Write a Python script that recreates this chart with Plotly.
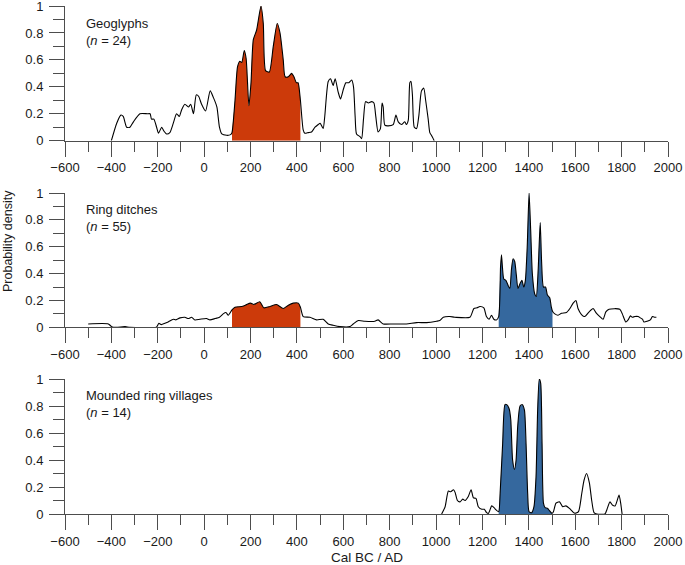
import plotly.graph_objects as go

# ---------------- data ----------------
geo_x = [-400, -377, -359, -349, -334, -320, -305, -277, -245, -233, -227, -217, -205, -197, -183, -173, -162, -148,
         -133, -119, -107, -97, -83, -68, -58, -46, -34, -24, -11, 6, 26, 40, 55, 66, 76, 97, 114,
         120, 133, 144, 154, 162, 173, 181, 193, 202, 212, 226, 245, 255, 265, 281, 298, 315, 327, 341, 349, 363,
         377, 387, 398, 405, 415,
         427, 434, 449, 463, 478, 492, 500, 513, 520, 535, 545, 556, 565, 578, 588, 600, 611, 624, 636, 644, 651,
         657, 672, 679, 687, 696, 708, 722, 732, 740, 750, 760, 767, 772, 779, 793, 815, 827, 837, 851, 865, 872,
         880, 887, 892, 898, 906, 916, 926, 937, 947, 955, 966, 973, 980, 992]
geo_y = [0, 0.13, 0.19, 0.18, 0.10, 0.10, 0.14, 0.20, 0.20, 0.20, 0.16, 0.16, 0.10, 0.055, 0.10, 0.07, 0.05, 0.06,
         0.13, 0.20, 0.18, 0.23, 0.27, 0.25, 0.27, 0.20, 0.34, 0.33, 0.27, 0.22, 0.37, 0.32, 0.25, 0.10, 0.05, 0.04, 0.045,
         0.06, 0.30, 0.55, 0.59, 0.58, 0.67, 0.61, 0.26, 0.43, 0.75, 0.82, 1.0, 0.87, 0.52, 0.51, 0.70, 0.87, 0.80, 0.60, 0.475, 0.475,
         0.50, 0.475, 0.43, 0.43, 0.30,
         0.08, 0.055, 0.06, 0.065, 0.10, 0.12, 0.13, 0.09, 0.18, 0.44, 0.46, 0.41, 0.46, 0.36, 0.31, 0.38, 0.43, 0.43, 0.45, 0.40, 0.18,
         0.05, 0.03, 0.015, 0.16, 0.29, 0.28, 0.29, 0.28, 0.18, 0.065, 0.09, 0.28, 0.25, 0.115, 0.11, 0.12, 0.19, 0.14, 0.12, 0.14, 0.12,
         0.15, 0.43, 0.44, 0.34, 0.10, 0.09, 0.19, 0.37, 0.39, 0.30, 0.16, 0.06, 0.04, 0]

ring_x = [-500, -413, -399, -380, -341, -320, -206, -195, -185, -169, -155, -133, -122, -104, -83, -68, -54, -40, -18,
          10, 25, 47, 66, 82, 94, 104,
          120, 133, 162, 178, 200, 214, 240, 257, 284, 312, 341, 363, 384, 406, 415,
          427, 456, 485, 513, 535, 556, 585, 628, 643, 665, 693, 736, 750, 772, 815, 872, 916, 959, 1002, 1016,
          1031, 1059, 1081, 1146, 1163, 1177, 1189, 1206, 1217, 1229, 1239, 1249, 1260,
          1270, 1278, 1282, 1286, 1292, 1301, 1311, 1318, 1325, 1332, 1339, 1346, 1353, 1363, 1370, 1378, 1385, 1393,
          1401, 1408, 1415, 1425, 1432, 1440, 1449, 1455, 1463, 1472, 1480, 1490, 1497, 1502,
          1512, 1526, 1541, 1562, 1577, 1591, 1603, 1612, 1627, 1641, 1660, 1677, 1691, 1706, 1720, 1732, 1746, 1792,
          1803, 1818, 1828, 1838, 1846, 1857, 1871, 1881, 1890, 1896, 1910, 1924, 1933, 1943, 1950]
ring_y = [0.025, 0.025, 0.005, 0, 0.005, 0, 0, 0.03, 0.02, 0.03, 0.04, 0.06, 0.055, 0.07, 0.075, 0.065, 0.075, 0.055, 0.06,
          0.065, 0.055, 0.065, 0.075, 0.10, 0.11, 0.09,
          0.13, 0.15, 0.155, 0.165, 0.18, 0.17, 0.19, 0.145, 0.155, 0.17, 0.14, 0.165, 0.18, 0.18, 0.15,
          0.08, 0.075, 0.055, 0.06, 0.025, 0.015, 0.005, 0.005, 0.025, 0.05, 0.045, 0.045, 0.055, 0.025, 0.025, 0.025, 0.035, 0.035, 0.045, 0.05,
          0.075, 0.08, 0.075, 0.075, 0.14, 0.145, 0.155, 0.145, 0.08, 0.06, 0.09, 0.06, 0.055,
          0.08, 0.45, 0.54, 0.45, 0.36, 0.35, 0.31, 0.29, 0.43, 0.51, 0.49, 0.39, 0.29, 0.33, 0.35, 0.30, 0.35, 0.60,
          1.0, 0.72, 0.40, 0.25, 0.23, 0.42, 0.78, 0.49, 0.30, 0.30, 0.24, 0.22, 0.15, 0.12,
          0.10, 0.09, 0.105, 0.11, 0.14, 0.18, 0.20, 0.14, 0.095, 0.08, 0.115, 0.14, 0.105, 0.08, 0.06, 0.115, 0.135, 0.135,
          0.10, 0.04, 0.055, 0.085, 0.075, 0.08, 0.08, 0.07, 0.06, 0.04, 0.045, 0.055, 0.08, 0.075, 0.075]

mound_x = [1024, 1039, 1053, 1063, 1075, 1082, 1092, 1103, 1115, 1125, 1139, 1151, 1161, 1172, 1182, 1197, 1208, 1218,
           1226, 1240, 1250, 1259,
           1270, 1276, 1287, 1297, 1305, 1315, 1322, 1330, 1338, 1345, 1352, 1362, 1372, 1381, 1388, 1395, 1401,
           1412, 1422, 1431, 1438, 1445, 1451, 1457, 1463, 1470, 1480, 1489, 1500,
           1506, 1517, 1532, 1546, 1560, 1575, 1589, 1599, 1614, 1628, 1638, 1649, 1661, 1671, 1681, 1693, 1728,
           1736, 1750, 1760, 1772, 1779, 1789, 1796, 1802]
mound_y = [0, 0.054, 0.17, 0.165, 0.18, 0.16, 0.10, 0.09, 0.11, 0.10, 0.13, 0.18, 0.12, 0.115, 0.054, 0.035, 0.035, 0.01,
           0.005, 0.06, 0.047, 0.03,
           0.017, 0.15, 0.52, 0.81, 0.81, 0.78, 0.70, 0.40, 0.33, 0.40, 0.65, 0.80, 0.81, 0.77, 0.52, 0.15, 0.017,
           0.01, 0.054, 0.28, 0.77, 1.0, 0.97, 0.52, 0.08, 0.047, 0.042, 0.025, 0.005,
           0.017, 0.08, 0.09, 0.054, 0.06, 0.042, 0.017, 0.005, 0.017, 0.15, 0.25, 0.30, 0.23, 0.10, 0.01, 0, 0,
           0.03, 0.09, 0.067, 0.06, 0.09, 0.14, 0.08, 0]

panel_names = ["Geoglyphs", "Ring ditches", "Mounded ring villages"]
panel_n = [24, 55, 14]
red_range = [120, 415]
blue_range = [1270, 1502]
x_tick_vals = list(range(-600, 2001, 200))
y_tick_vals = [0, 0.2, 0.4, 0.6, 0.8, 1]

RED = "#CC3A0A"
BLUE = "#35689E"
AXC = "#4d4d4d"
FONT = "Liberation Sans, Arial, sans-serif"

panels = [(geo_x, geo_y, [(red_range, RED)]),
          (ring_x, ring_y, [(red_range, RED), (blue_range, BLUE)]),
          (mound_x, mound_y, [(blue_range, BLUE)])]

fig = go.Figure()
for i, (xs, ys, fills) in enumerate(panels):
    ax = "" if i == 0 else str(i + 1)
    for (lo, hi), col in fills:
        fx = [x for x in xs if lo <= x <= hi]
        fy = [y for x, y in zip(xs, ys) if lo <= x <= hi]
        if not fx:
            continue
        fig.add_trace(go.Scatter(x=fx, y=fy, mode="lines", fill="tozeroy", fillcolor=col,
                                 line=dict(width=0, color=col, shape="spline", smoothing=0.6),
                                 xaxis="x" + ax, yaxis="y" + ax, hoverinfo="skip", showlegend=False))
    fig.add_trace(go.Scatter(x=xs, y=ys, mode="lines",
                             line=dict(width=1.1, color="black", shape="spline", smoothing=0.6),
                             xaxis="x" + ax, yaxis="y" + ax, hoverinfo="skip", showlegend=False))

H = 565
top_m, bot_m = 6, 51
plot_h = H - top_m - bot_m
def frac(py):
    return (H - bot_m - py) / plot_h

domains = [(frac(140.7), frac(6)), (frac(327.3), frac(193)), (frac(514), frac(379))]

axis_common = dict(showline=True, linecolor=AXC, linewidth=1, ticks="outside", tickcolor=AXC,
                   tickwidth=1, showgrid=False, zeroline=False, automargin=False,
                   ticklabeloverflow="allow",
                   tickfont=dict(family=FONT, size=13, color="#1a1a1a"))
layout = dict(template="none", width=685, height=565, margin=dict(l=65, r=17, t=top_m, b=bot_m, autoexpand=False),
              plot_bgcolor="white", paper_bgcolor="white", showlegend=False, hovermode=False)
for i, dom in enumerate(domains):
    k = "" if i == 0 else str(i + 1)
    layout["xaxis" + k] = dict(axis_common, range=[-600, 2000], tickvals=x_tick_vals, ticklen=15,
                               minor=dict(ticks="outside", dtick=100, ticklen=10, tickcolor=AXC, tickwidth=1),
                               anchor="y" + k, domain=[0, 1])
    layout["yaxis" + k] = dict(axis_common, range=[0, 1], tickvals=y_tick_vals, ticklen=15,
                               minor=dict(ticks="outside", dtick=0.1, ticklen=11, tickcolor=AXC, tickwidth=1),
                               anchor="x" + k, domain=list(dom), ticklabelstandoff=3)
fig.update_layout(**layout)

label_y = [31.5, 217.5, 404.5]
for name, n, py in zip(panel_names, panel_n, label_y):
    fig.add_annotation(text=f"{name}<br>(<i>n</i> = {n})", x=(84 - 65) / 603, y=frac(py),
                       xref="paper", yref="paper", xanchor="left", yanchor="middle", align="left",
                       showarrow=False, font=dict(family=FONT, size=13, color="#1a1a1a"))

fig.add_annotation(text="Probability density", x=(8 - 65) / 603, y=frac(241), xref="paper", yref="paper",
                   textangle=-90, showarrow=False, xanchor="center", yanchor="middle",
                   font=dict(family=FONT, size=12.5, color="#1a1a1a"))
fig.add_annotation(text="Cal BC / AD", x=(367 - 65) / 603, y=frac(557), xref="paper", yref="paper",
                   showarrow=False, xanchor="center", yanchor="middle",
                   font=dict(family=FONT, size=13.5, color="#1a1a1a"))

fig.write_html("out.html", config=dict(displayModeBar=False),
               post_script="document.body.style.margin='0';document.body.style.overflow='hidden';")
